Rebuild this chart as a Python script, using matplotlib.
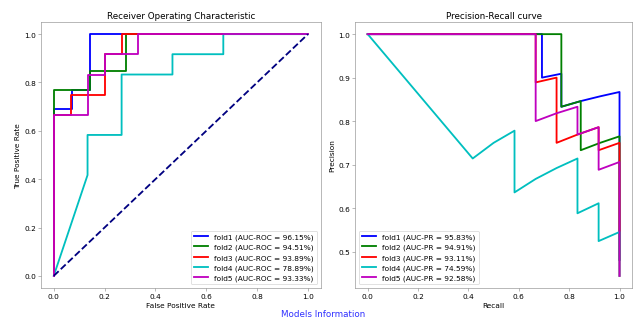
import matplotlib
matplotlib.use("Agg")
from matplotlib import pyplot as plt

fold_names = ['fold1', 'fold2', 'fold3', 'fold4', 'fold5']
fold_colors = ['blue', 'green', 'red', 'c', 'm']
auc_roc = [96.15, 94.51, 93.89, 78.89, 93.33]
auc_pr = [95.83, 94.91, 93.11, 74.59, 92.58]

# ROC points per fold
fpr1 = [0, 0, 0.071, 0.071, 0.143, 0.143, 1]
tpr1 = [0, 0.692, 0.692, 0.769, 0.769, 1, 1]
fpr2 = [0, 0, 0.143, 0.143, 0.286, 0.286, 1]
tpr2 = [0, 0.769, 0.769, 0.846, 0.846, 1, 1]
fpr3 = [0, 0, 0.067, 0.067, 0.2, 0.2, 0.267, 0.267, 1]
tpr3 = [0, 0.667, 0.667, 0.75, 0.75, 0.917, 0.917, 1, 1]
fpr4 = [0, 0.133, 0.133, 0.267, 0.267, 0.467, 0.467, 0.667, 0.667, 1]
tpr4 = [0, 0.417, 0.583, 0.583, 0.833, 0.833, 0.917, 0.917, 1, 1]
fpr5 = [0, 0, 0.133, 0.133, 0.2, 0.2, 0.333, 0.333, 1]
tpr5 = [0, 0.667, 0.667, 0.833, 0.833, 0.917, 0.917, 1, 1]

# precision-recall points per fold
rec1 = [0, 0.692, 0.692, 0.769, 0.769, 0.846, 0.923, 1, 1]
prec1 = [1, 1, 0.9, 0.909, 0.833, 0.846, 0.857, 0.867, 0.481]
rec2 = [0, 0.769, 0.769, 0.769, 0.846, 0.846, 0.846, 0.923, 1, 1]
prec2 = [1, 1, 0.909, 0.833, 0.846, 0.786, 0.733, 0.75, 0.765, 0.481]
rec3 = [0, 0.667, 0.667, 0.75, 0.75, 0.75, 0.833, 0.917, 0.917, 1, 1]
prec3 = [1, 1, 0.889, 0.9, 0.818, 0.75, 0.769, 0.786, 0.733, 0.75, 0.444]
rec4 = [0, 0.417, 0.5, 0.583, 0.583, 0.583, 0.667, 0.75, 0.833, 0.833, 0.833,
        0.833, 0.917, 0.917, 0.917, 0.917, 1, 1]
prec4 = [1, 0.714, 0.75, 0.778, 0.7, 0.636, 0.667, 0.692, 0.714, 0.667, 0.625,
         0.588, 0.611, 0.579, 0.55, 0.524, 0.545, 0.444]
rec5 = [0, 0.667, 0.667, 0.667, 0.75, 0.833, 0.833, 0.917, 0.917, 0.917, 1, 1]
prec5 = [1, 1, 0.889, 0.8, 0.818, 0.833, 0.769, 0.786, 0.733, 0.688, 0.706, 0.444]

fprs = [fpr1, fpr2, fpr3, fpr4, fpr5]
tprs = [tpr1, tpr2, tpr3, tpr4, tpr5]
recs = [rec1, rec2, rec3, rec4, rec5]
precs = [prec1, prec2, prec3, prec4, prec5]

fig = plt.figure(figsize=(12.0, 6.066), dpi=52.75)
ax1 = fig.add_axes([0.0648, 0.097, 0.4418, 0.831])
ax2 = fig.add_axes([0.561, 0.097, 0.4376, 0.831])

for i in range(len(fold_names)):
    ax1.plot(fprs[i], tprs[i], color=fold_colors[i], lw=2.5,
             label='%s (AUC-ROC = %.2f%%)' % (fold_names[i], auc_roc[i]))
ax1.plot([0, 1], [0, 1], color='navy', lw=2.5, linestyle='--')
ax1.set_xlabel('False Positive Rate')
ax1.set_ylabel('True Positive Rate')
ax1.set_title('Receiver Operating Characteristic')
ax1.legend(loc='lower right')

for i in range(len(fold_names)):
    ax2.plot(recs[i], precs[i], color=fold_colors[i], lw=2.5,
             label='%s (AUC-PR = %.2f%%)' % (fold_names[i], auc_pr[i]))
ax2.set_xlabel('Recall')
ax2.set_ylabel('Precision')
ax2.set_title('Precision-Recall curve')
ax2.legend(loc='lower left')

for ax in (ax1, ax2):
    for s in ax.spines.values():
        s.set_color('#888888')
    ax.tick_params(color='#888888')

fig.text(0.51, 0.016, 'Models Information', color='#3030ff', fontsize=12,
         ha='center', va='center')

plt.savefig('out.png', dpi=52.75)
